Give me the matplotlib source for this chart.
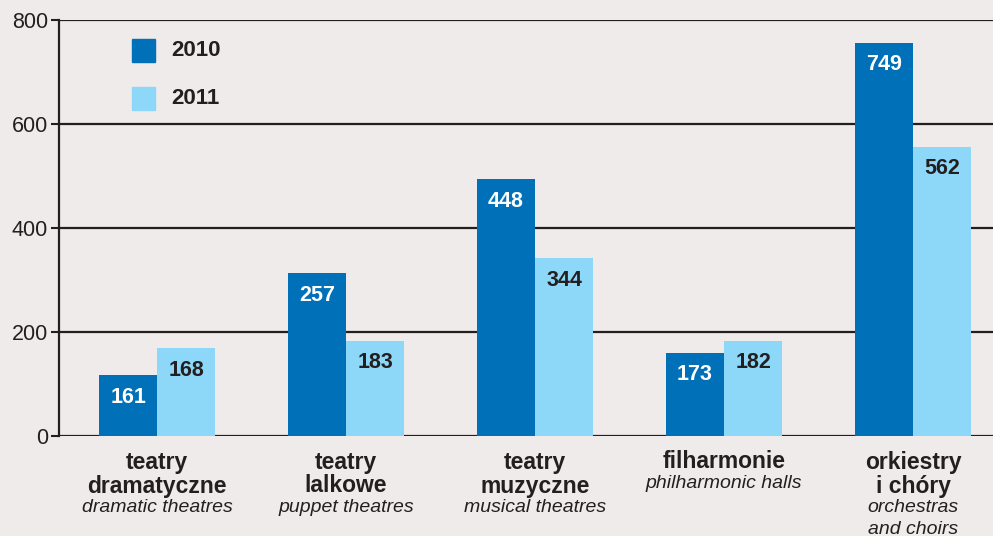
import numpy as np
from matplotlib import pyplot as plt
from matplotlib.patches import Rectangle

plt.rcParams["font.family"] = ["Liberation Sans", "DejaVu Sans"]

# data
categories_pl = [["teatry", "dramatyczne"], ["teatry", "lalkowe"], ["teatry", "muzyczne"],
                 ["filharmonie"], ["orkiestry", "i chóry"]]
categories_en = [["dramatic theatres"], ["puppet theatres"], ["musical theatres"],
                 ["philharmonic halls"], ["orchestras", "and choirs"]]
years = ["2010", "2011"]
labels_2010 = [161, 257, 448, 173, 749]
labels_2011 = [168, 183, 344, 182, 562]
# bar heights as drawn (they do not follow the printed labels exactly)
heights_2010 = [117, 313, 494, 160, 756]
heights_2011 = [169, 183, 342, 183, 556]
y_ticks = [0, 200, 400, 600, 800]

BG = "#efebea"
DARK_BLUE = "#0070b8"
LIGHT_BLUE = "#8dd8f8"
TEXT = "#231f20"

fig = plt.figure(figsize=(9.93, 5.36), dpi=100, facecolor=BG)
ax = fig.add_axes([59 / 993, 1 - 436 / 536, 934 / 993, 416 / 536])
ax.set_facecolor(BG)

x = np.arange(len(labels_2010))
w = 0.307
b1 = ax.bar(x - w / 2, heights_2010, w, color=DARK_BLUE, zorder=3)
b2 = ax.bar(x + w / 2, heights_2011, w, color=LIGHT_BLUE, zorder=3)

for bars, labels, col in [(b1, labels_2010, "white"), (b2, labels_2011, TEXT)]:
    for bar, lab in zip(bars, labels):
        ax.annotate(str(lab), (bar.get_x() + bar.get_width() / 2, bar.get_height()),
                    xytext=(0, -22 * 0.72), textcoords="offset points",
                    ha="center", va="center", fontsize=15.5, fontweight="bold",
                    color=col, zorder=4)

ax.set_xlim(-0.519, 4.423)
ax.set_ylim(0, 800)
ax.set_yticks(y_ticks)
ax.set_yticklabels([str(t) for t in y_ticks], fontsize=15.5, color=TEXT)
ax.tick_params(axis="y", length=6, width=1.5, color=TEXT, pad=2)
ax.set_xticks([])
for t in y_ticks:
    ax.axhline(t, color=TEXT, lw=1.6, zorder=1)
for s in ["top", "right", "bottom"]:
    ax.spines[s].set_visible(False)
ax.spines["left"].set_color(TEXT)
ax.spines["left"].set_linewidth(1.6)

# category labels under the axis
for i in range(len(categories_pl)):
    lines = [(t, "bold", "normal", 16.5) for t in categories_pl[i]] + \
            [(t, "normal", "italic", 14) for t in categories_en[i]]
    offs = [26]
    for k in range(1, len(lines)):
        offs.append(offs[-1] + (24 if lines[k][1] == "bold" else 22))
    for (txt, weight, style, fs), off in zip(lines, offs):
        ax.annotate(txt, (i, 0), xycoords=("data", "axes fraction"),
                    xytext=(0, -off * 0.72), textcoords="offset points",
                    ha="center", va="center", fontsize=fs, fontweight=weight,
                    fontstyle=style, color=TEXT, annotation_clip=False)

# legend
for (yc, col, yr) in [(50, DARK_BLUE, years[0]), (98, LIGHT_BLUE, years[1])]:
    fig.patches.append(Rectangle((132 / 993, 1 - (yc + 11.5) / 536), 23 / 993, 23 / 536,
                                 transform=fig.transFigure, color=col))
    fig.text(171 / 993, 1 - yc / 536, yr, fontsize=16, fontweight="bold",
             color=TEXT, va="center", ha="left")

plt.savefig("out.png", dpi=100, facecolor=BG)
